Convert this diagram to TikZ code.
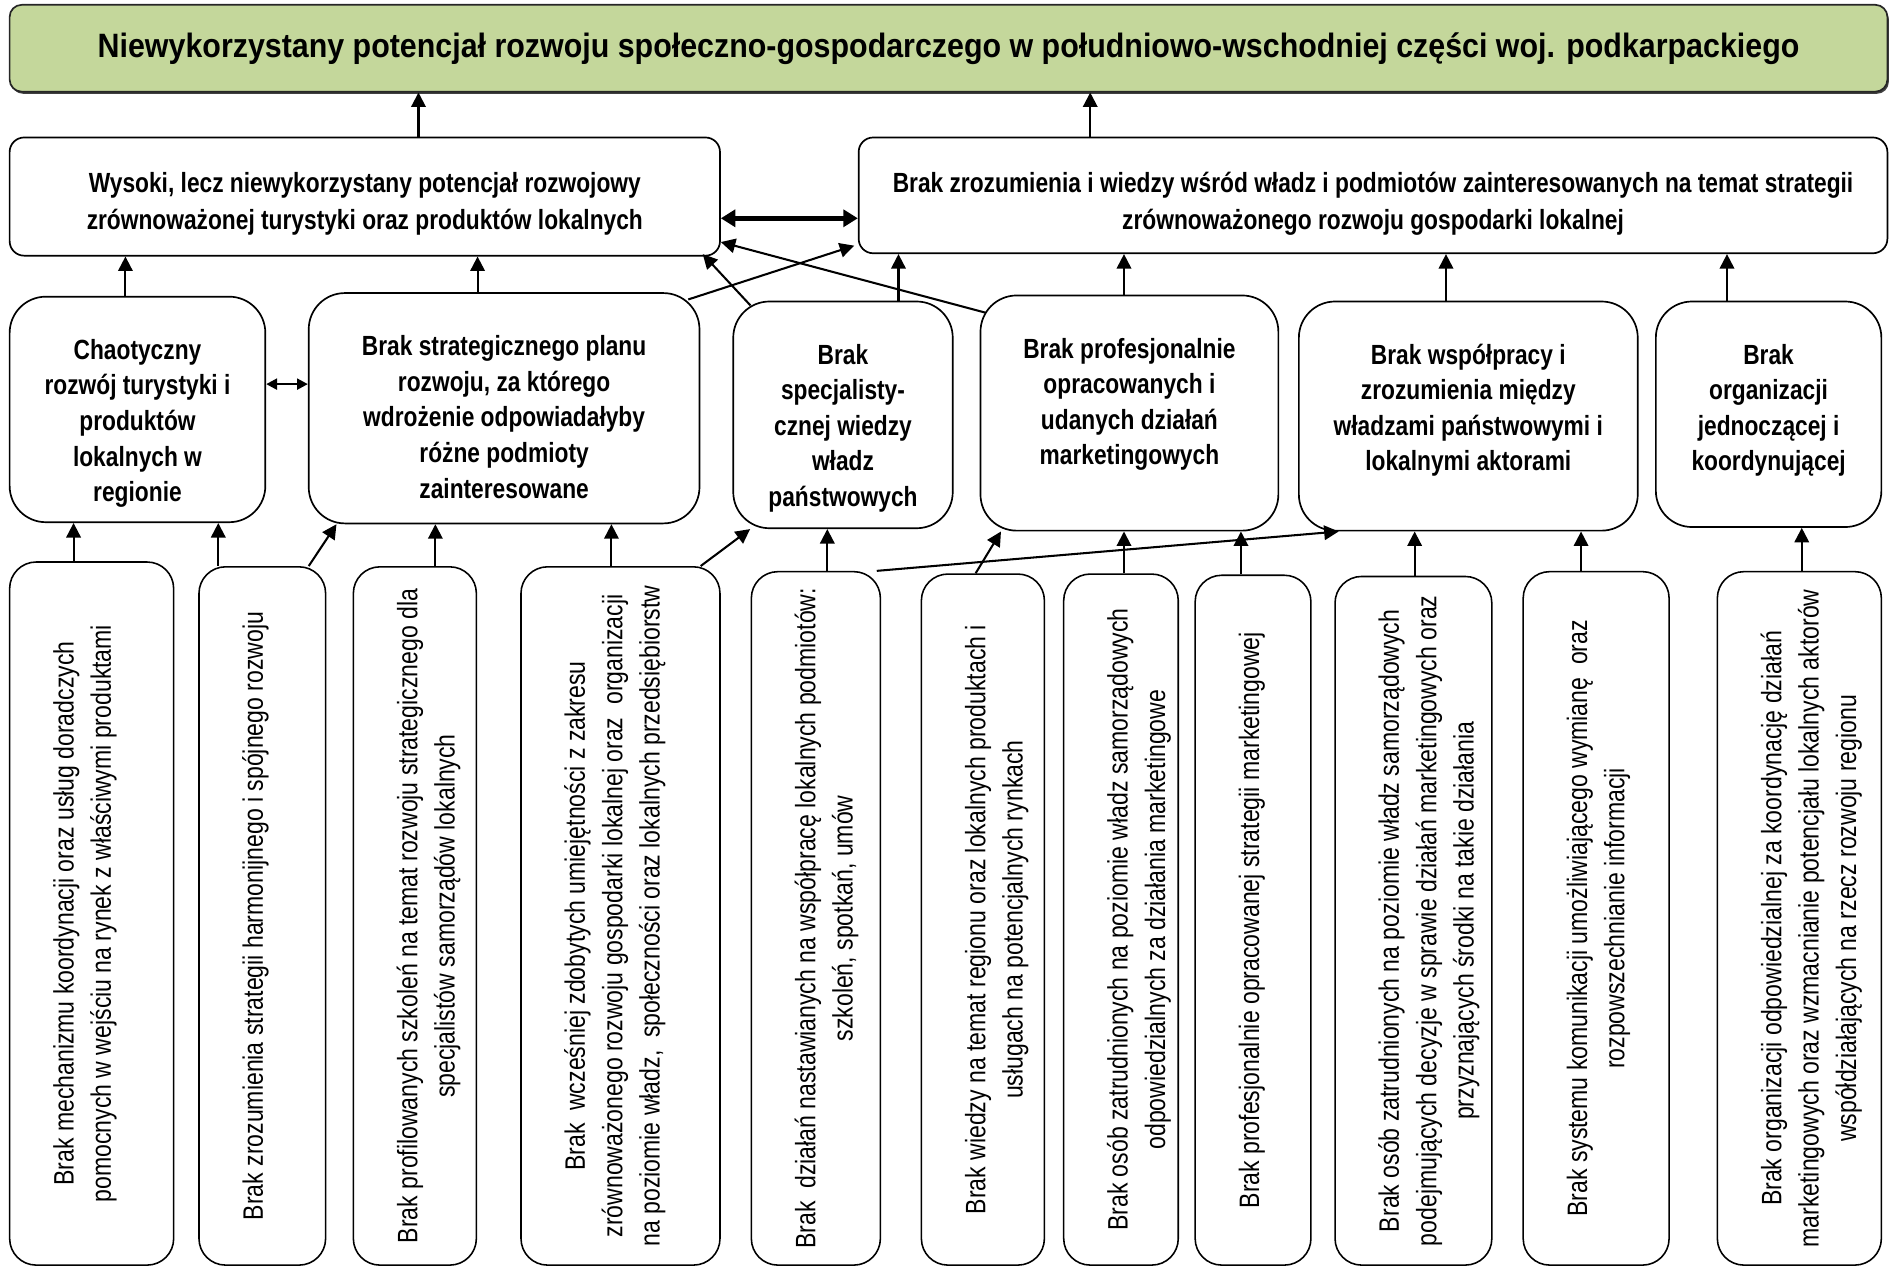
\documentclass[tikz,border=0pt]{standalone}
\usepackage{fontspec}
\setmainfont{Liberation Sans}[FakeStretch=0.82]
\newfontfamily\titlefont{Liberation Sans}[FakeStretch=0.9]
\usetikzlibrary{arrows.meta,shadows}

\definecolor{goalgreen}{RGB}{196,215,155}

\begin{document}
\begin{tikzpicture}[x=1pt, y=-1pt,
	every node/.style={align=flush center, inner sep=2pt},
	goal/.style={draw=black!85, line width=1.4pt, fill=goalgreen,
				rounded corners=10pt,
				drop shadow={shadow xshift=1.2pt, shadow yshift=-1.8pt, fill=black!75, opacity=1},
				font=\titlefont\fontsize{28}{32}\selectfont\bfseries
				},
	effect/.style={draw, fill=white, line width=1.4pt, rounded corners=12pt,
				text height=44pt,
				font=\fontsize{23}{30}\selectfont\bfseries
				},
	cause/.style={draw, line width=1.4pt, rounded corners=30pt,
				text height=50pt,
				font=\fontsize{23}{29.5}\selectfont\bfseries
				},
	root/.style={draw, line width=1.3pt, rounded corners=22pt, rotate=90,
				inner xsep=-16pt, text width=600pt, text height=51pt,
				font=\fontsize{23.3}{31}\selectfont
				},
	arr/.style={-{Triangle[length=12pt,width=12pt]}, line width=1.7pt},
	biarr/.style={{Triangle[length=12pt,width=14pt]}-{Triangle[length=12pt,width=14pt]}, line width=4pt},
	smallbi/.style={{Triangle[length=9pt,width=9pt]}-{Triangle[length=9pt,width=9pt]}, line width=2pt}
]
	\useasboundingbox (0,0) rectangle (1568,1052);

	% top: the main problem
	\node[goal, minimum width=1557pt, minimum height=72pt] (goal) at (786.5,40)
		{Niewykorzystany potencjał rozwoju społeczno-gospodarczego w południowo-wschodniej części woj. podkarpackiego};

	% effects
	\node[effect, minimum width=589pt, minimum height=98pt, text width=580pt, text depth=50pt] (tourism) at (302.5,163)
		{Wysoki, lecz niewykorzystany potencjał rozwojowy\\ zrównoważonej turystyki oraz produktów lokalnych};
	\node[effect, minimum width=853pt, minimum height=96pt, text width=845pt, text depth=48pt] (knowledge) at (1138.5,162)
		{Brak zrozumienia i wiedzy wśród władz i podmiotów zainteresowanych na temat strategii\\ zrównoważonego rozwoju gospodarki lokalnej};

	% causes
	\node[cause, minimum width=212pt, minimum height=187pt, text width=200pt, text depth=133pt] (chaos) at (114,339.5)
		{Chaotyczny\\ rozwój turystyki i\\ produktów\\ lokalnych w\\ regionie};
	\node[cause, minimum width=324pt, minimum height=191pt, text width=310pt, text depth=137pt] (plan) at (418,338.5)
		{Brak strategicznego planu\\ rozwoju, za którego\\ wdrożenie odpowiadałyby\\ różne podmioty\\ zainteresowane};
	\node[cause, minimum width=182pt, minimum height=188pt, text width=170pt, text depth=134pt] (expert) at (699,344)
		{Brak\\ specjalisty-\\ cznej wiedzy\\ władz\\ państwowych};
	\node[cause, minimum width=247pt, minimum height=195pt, text width=235pt, text depth=141pt] (marketing) at (936.5,342.5)
		{Brak profesjonalnie\\ opracowanych i\\ udanych działań\\ marketingowych};
	\node[cause, minimum width=281pt, minimum height=190pt, text width=270pt, text depth=136pt] (coop) at (1217.5,345)
		{Brak współpracy i\\ zrozumienia między\\ władzami państwowymi i\\ lokalnymi aktorami};
	\node[cause, minimum width=187pt, minimum height=187pt, text width=175pt, text depth=133pt] (org) at (1466.5,343.5)
		{Brak\\ organizacji\\ jednoczącej i\\ koordynującej};

	% root causes (rotated)
	\node[root, minimum width=583pt, minimum height=136pt, text depth=81pt] (advisory) at (76,757.5)
		{Brak mechanizmu koordynacji oraz usług doradczych\\ pomocnych w wejściu na rynek z właściwymi produktami};
	\node[root, minimum width=579pt, minimum height=105pt, text depth=50pt] (harmony) at (217.5,759.5)
		{Brak zrozumienia strategii harmonijnego i spójnego rozwoju};
	\node[root, minimum width=579pt, minimum height=102pt, text depth=47pt] (training) at (344,759.5)
		{Brak profilowanych szkoleń na temat rozwoju strategicznego dla\\ specjalistów samorządów lokalnych};
	\node[root, minimum width=579pt, minimum height=165pt, text depth=110pt] (skills) at (514.5,759.5)
		{Brak\ \ wcześniej zdobytych umiejętności z zakresu\\ zrównoważonego rozwoju gospodarki lokalnej oraz\ \ organizacji\\ na poziomie władz,\ \ społeczności oraz lokalnych przedsiębiorstw};
	\node[root, minimum width=575pt, minimum height=107pt, text depth=52pt] (networking) at (676.5,761.5)
		{Brak\ \ działań nastawianych na współpracę lokalnych podmiotów:\\ szkoleń, spotkań, umów};
	\node[root, minimum width=573pt, minimum height=102pt, text depth=47pt] (regional) at (815,762.5)
		{Brak wiedzy na temat regionu oraz lokalnych produktach i\\ usługach na potencjalnych rynkach};
	\node[root, minimum width=573pt, minimum height=95pt, text depth=40pt] (staff) at (929.5,762.5)
		{Brak osób zatrudnionych na poziomie władz samorządowych\\ odpowiedzialnych za działania marketingowe};
	\node[root, minimum width=572pt, minimum height=96pt, text depth=41pt] (mstrategy) at (1039,763)
		{Brak profesjonalnie opracowanej strategii marketingowej};
	\node[root, minimum width=571pt, minimum height=130pt, text depth=75pt] (deciders) at (1172,763.5)
		{Brak osób zatrudnionych na poziomie władz samorządowych\\ podejmujących decyzje w sprawie działań marketingowych oraz\\ przyznających środki na takie działania};
	\node[root, minimum width=575pt, minimum height=121pt, text depth=66pt] (communication) at (1323.5,761.5)
		{Brak systemu komunikacji umożliwiającego wymianę\ \ oraz\\ rozpowszechnianie informacji};
	\node[root, minimum width=575pt, minimum height=136pt, text depth=81pt] (coordination) at (1492,761.5)
		{Brak organizacji odpowiedzialnej za koordynację działań\\ marketingowych oraz wzmacnianie potencjału lokalnych aktorów\\ współdziałających na rzecz rozwoju regionu};

	% effects -> main problem
	\draw[arr] (347,0 |- tourism.north) -- (347,0 |- goal.south);
	\draw[arr] (904,0 |- knowledge.north) -- (904,0 |- goal.south);
	\draw[biarr] ([yshift=-18pt]tourism.east) -- ([yshift=-18pt]tourism.east -| knowledge.west);

	% causes -> effects
	\draw[arr] (104,0 |- chaos.north) -- (104,0 |- tourism.south);
	\draw[arr] (396,0 |- plan.north) -- (396,0 |- tourism.south);
	\draw[arr] ([xshift=-10pt,yshift=-6pt]plan.north east) -- ([xshift=-3pt,yshift=7pt]knowledge.south west);
	\draw[arr] ([xshift=15pt,yshift=-4pt]expert.north west) -- ([xshift=-15pt,yshift=2pt]tourism.south east);
	\draw[arr] ([xshift=5pt,yshift=-15pt]marketing.north west) -- ([yshift=12pt]tourism.south east);
	\draw[arr] (745,0 |- expert.north) -- (745,0 |- knowledge.south);
	\draw[arr] (932,0 |- marketing.north) -- (932,0 |- knowledge.south);
	\draw[arr] (1199,0 |- coop.north) -- (1199,0 |- knowledge.south);
	\draw[arr] (1432,0 |- org.north) -- (1432,0 |- knowledge.south);
	\draw[smallbi] ([yshift=21pt]chaos.east) -- ([yshift=21pt]chaos.east -| plan.west);

	% root causes -> causes
	\draw[arr] (61,0 |- advisory.east) -- (61,0 |- chaos.south);
	\draw[arr] (181,0 |- harmony.east) -- (181,0 |- chaos.south);
	\draw[arr] (256,0 |- harmony.east) -- (279,0 |- plan.south);
	\draw[arr] (361,0 |- training.east) -- (361,0 |- plan.south);
	\draw[arr] (507,0 |- skills.east) -- (507,0 |- plan.south);
	\draw[arr] (581,0 |- skills.east) -- (622,0 |- expert.south);
	\draw[arr] (686,0 |- networking.east) -- (686,0 |- expert.south);
	\draw[arr] (727,0 |- networking.east) -- (1110,0 |- coop.south);
	\draw[arr] (809,0 |- regional.east) -- (830,0 |- marketing.south);
	\draw[arr] (932,0 |- staff.east) -- (932,0 |- marketing.south);
	\draw[arr] (1029,0 |- mstrategy.east) -- (1029,0 |- marketing.south);
	\draw[arr] (1173,0 |- deciders.east) -- (1173,0 |- coop.south);
	\draw[arr] (1311,0 |- communication.east) -- (1311,0 |- coop.south);
	\draw[arr] (1494,0 |- coordination.east) -- (1494,0 |- org.south);
\end{tikzpicture}
\end{document}
